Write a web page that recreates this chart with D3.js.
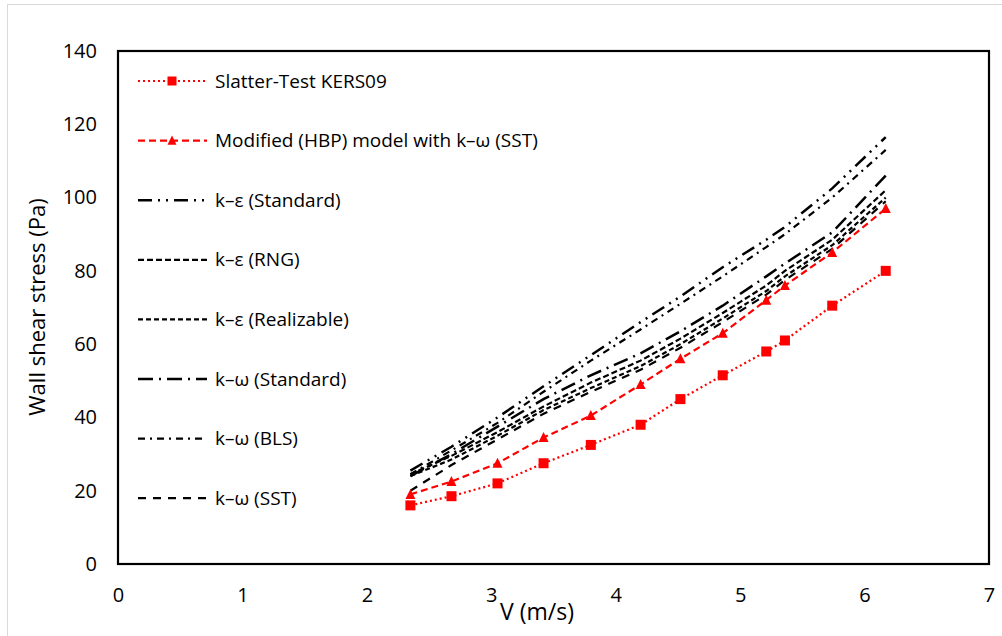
<!DOCTYPE html>
<html>
<head>
<meta charset="utf-8">
<script src="https://cdn.jsdelivr.net/npm/d3@7"></script>
<style>
  body { margin: 0; background: #fff; }
  svg text { font-family: "Open Sans", "Noto Sans", sans-serif; fill: #000; }
</style>
</head>
<body>
<div id="chart"></div>
<script>
// velocities (m/s) shared by every series
const velocity = [2.35, 2.68, 3.05, 3.42, 3.80, 4.20, 4.52, 4.86, 5.21, 5.36, 5.74, 6.17];

// wall shear stress (Pa)
const slatter  = [16, 18.5, 22, 27.5, 32.5, 38, 45, 51.5, 58, 61, 70.5, 80];
const hbpSST   = [19, 22.5, 27.5, 34.5, 40.5, 49, 56, 63, 72, 76, 85, 97];
const keStd    = [25.5, 32, 40, 48.5, 57, 66, 73, 81, 88.5, 92, 102.5, 116.5];
const keRNG    = [24.5, 29.5, 36, 43, 49.5, 55.5, 61.5, 68.5, 76, 80, 88.5, 102];
const keReal   = [24, 28.5, 35, 42, 48, 54, 60, 67, 74.5, 78.5, 87, 100];
const kwStd    = [24, 30, 37.5, 45, 51.5, 57.5, 63.5, 70.5, 78.5, 82, 90.5, 106];
const kwBLS    = [24.5, 31, 38.5, 47, 55.5, 64, 71, 78.5, 86.5, 90, 100, 113];
const kwSST    = [20, 27, 34, 41, 47, 53, 59, 66, 73.5, 77.5, 86, 99];

const seriesNames = ["Slatter-Test KERS09", "Modified (HBP) model with k–ω (SST)",
  "k–ε (Standard)", "k–ε (RNG)", "k–ε (Realizable)", "k–ω (Standard)", "k–ω (BLS)", "k–ω (SST)"];

const xTicks = [0, 1, 2, 3, 4, 5, 6, 7];
const yTicks = [0, 20, 40, 60, 80, 100, 120, 140];

// line styles, in the same order as the names
const styles = [
  {values: slatter, color: "#ff0000", dash: "2,3", width: 2.2, marker: "square"},
  {values: hbpSST,  color: "#ff0000", dash: "7,4", width: 2.2, marker: "triangle"},
  {values: keStd,   color: "#000", dash: "14,6,2,6,2,6", width: 2.5},
  {values: keRNG,   color: "#000", dash: "6,3", width: 2.2},
  {values: keReal,  color: "#000", dash: "5,3", width: 2.2},
  {values: kwStd,   color: "#000", dash: "15,6,2,6", width: 2.5},
  {values: kwBLS,   color: "#000", dash: "7,5,2,5", width: 2.2},
  {values: kwSST,   color: "#000", dash: "8,7", width: 2.2}
];

const W = 1002, H = 636;
const plot = {left: 118, right: 989, top: 51, bottom: 564};

const x = d3.scaleLinear().domain([0, 7]).range([plot.left, plot.right]);
const y = d3.scaleLinear().domain([0, 140]).range([plot.bottom, plot.top]);

const svg = d3.select("#chart").append("svg")
  .attr("width", W)
  .attr("height", H);

// light outer chart border
svg.append("rect")
  .attr("x", 7.5).attr("y", 4.5)
  .attr("width", 1000).attr("height", 640)
  .attr("fill", "none")
  .attr("stroke", "#d9d9d9");

// axes (labels only, no tick marks)
const xAxis = svg.append("g")
  .attr("transform", "translate(0," + plot.bottom + ")")
  .call(d3.axisBottom(x).tickValues(xTicks).tickFormat(d3.format("d")).tickSize(0).tickPadding(24));
const yAxis = svg.append("g")
  .attr("transform", "translate(" + plot.left + ",0)")
  .call(d3.axisLeft(y).tickValues(yTicks).tickFormat(d3.format("d")).tickSize(0).tickPadding(21));
[xAxis, yAxis].forEach(g => {
  g.select(".domain").remove();
  g.selectAll("text").style("font-size", "20px").attr("fill", "#000")
    .style("font-family", "'Open Sans', sans-serif");
});

// series
const line = d3.line()
  .x((d, i) => x(velocity[i]))
  .y(d => y(d));

styles.slice().reverse().forEach(s => {
  svg.append("path")
    .datum(s.values)
    .attr("d", line)
    .attr("fill", "none")
    .attr("stroke", s.color)
    .attr("stroke-width", s.width)
    .attr("stroke-dasharray", s.dash);
});

function drawMarker(g, type, cx, cy, size, color) {
  if (type === "square") {
    g.append("rect")
      .attr("x", cx - size / 2).attr("y", cy - size / 2)
      .attr("width", size).attr("height", size)
      .attr("fill", color);
  } else if (type === "triangle") {
    const h = size * 0.9;
    g.append("path")
      .attr("d", "M" + cx + "," + (cy - h / 2 - 1) + "L" + (cx + size / 2) + "," + (cy + h / 2) +
                 "L" + (cx - size / 2) + "," + (cy + h / 2) + "Z")
      .attr("fill", color);
  }
}

const markers = svg.append("g");
styles.forEach(s => {
  if (!s.marker) return;
  s.values.forEach((v, i) => drawMarker(markers, s.marker, x(velocity[i]), y(v), 10, s.color));
});

// plot frame
svg.append("rect")
  .attr("x", plot.left).attr("y", plot.top)
  .attr("width", plot.right - plot.left).attr("height", plot.bottom - plot.top)
  .attr("fill", "none")
  .attr("stroke", "#000")
  .attr("stroke-width", 2.2);

// legend
const legend = svg.append("g");
seriesNames.forEach((name, i) => {
  const s = styles[i];
  const ly = 81 + i * 59.6;
  legend.append("line")
    .attr("x1", 138).attr("x2", 207)
    .attr("y1", ly).attr("y2", ly)
    .attr("stroke", s.color)
    .attr("stroke-width", s.width)
    .attr("stroke-dasharray", s.dash);
  if (s.marker) drawMarker(legend, s.marker, 172, ly, 9, s.color);
  legend.append("text")
    .attr("x", 215).attr("y", ly)
    .attr("dy", "0.35em")
    .style("font-size", "19px")
    .text(name);
});

// axis titles
svg.append("text")
  .attr("text-anchor", "middle")
  .attr("x", 537).attr("y", 620)
  .style("font-size", "23px")
  .text("V (m/s)");

svg.append("text")
  .attr("text-anchor", "middle")
  .attr("transform", "translate(45,307)rotate(-90)")
  .style("font-size", "22px")
  .text("Wall shear stress (Pa)");
</script>
</body>
</html>
